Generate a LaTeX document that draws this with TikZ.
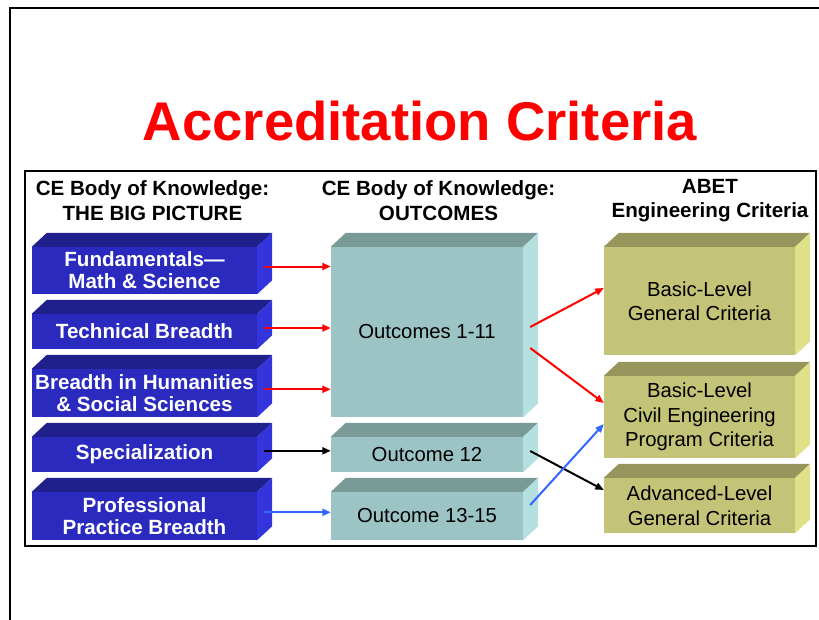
\documentclass[tikz,border=0pt]{standalone}
\usepackage{fontspec}
\setmainfont{Liberation Sans}
\usetikzlibrary{arrows.meta,calc}
\definecolor{bfront}{RGB}{42,42,190}
\definecolor{btop}{RGB}{32,32,140}
\definecolor{bside}{RGB}{52,52,220}
\definecolor{tfront}{RGB}{156,196,196}
\definecolor{ttop}{RGB}{122,154,152}
\definecolor{tside}{RGB}{180,224,224}
\definecolor{ofront}{RGB}{196,196,120}
\definecolor{otop}{RGB}{150,150,92}
\definecolor{oside}{RGB}{224,224,136}
\definecolor{lblue}{RGB}{51,102,255}
\newcommand\boxfaces[3]{%
  \fill[#2] (#1.north west) -- ++(15,-14) -- ([shift={(15,-14)}]#1.north east) -- (#1.north east) -- cycle;
  \fill[#3] (#1.north east) -- ++(15,-14) -- ([shift={(15,-14)}]#1.south east) -- (#1.south east) -- cycle;}
\tikzset{
  front/.style={rectangle, inner sep=0pt, align=center},
  bluebox/.style={front, fill=bfront, text=white, minimum width=225pt,
    font=\fontsize{20.6}{22}\selectfont\bfseries},
  tealbox/.style={front, fill=tfront, text=black, minimum width=192pt,
    font=\fontsize{20.3}{24}\selectfont},
  olivebox/.style={front, fill=ofront, text=black, minimum width=191pt,
    font=\fontsize{20.3}{24.5}\selectfont},
  header/.style={align=center, font=\fontsize{20.6}{24.5}\selectfont\bfseries},
  conn/.style={line width=2pt, -{Triangle[length=8.5pt,width=7pt]}},
  redc/.style={conn, draw=red, fill=red},
  blackc/.style={conn, draw=black, fill=black},
  bluec/.style={conn, draw=lblue, fill=lblue},
}
\begin{document}
\begin{tikzpicture}[x=1pt,y=-1pt]
\useasboundingbox (0,0) rectangle (819,619);
% frames
\draw[line width=2pt] (10,625) -- (10,7.5) -- (830,7.5);
\draw[line width=1.3pt] (25,171) rectangle (816,546);
% title
\node[anchor=base, text=red, font=\fontsize{54.5}{60}\selectfont\bfseries] (title) at (420,140) {Accreditation Criteria};
% headers
\node[header] (h1) at (152.5,200.5) {CE Body of Knowledge:\\THE BIG PICTURE};
\node[header] (h2) at (438.5,200.5) {CE Body of Knowledge:\\OUTCOMES};
\node[header] (h3) at (710,200.5) {ABET\\Engineering Criteria};
% blue boxes
\node[bluebox, minimum height=47pt] (b1) at (144.5,270.5) {Fundamentals\textemdash\\Math \& Science};
\node[bluebox, minimum height=35pt] (b2) at (144.5,331.5) {Technical Breadth};
\node[bluebox, minimum height=48pt] (b3) at (144.5,393) {Breadth in Humanities\\\& Social Sciences};
\node[bluebox, minimum height=35pt] (b4) at (144.5,454.5) {Specialization};
\node[bluebox, minimum height=48pt] (b5) at (144.5,516) {Professional\\Practice Breadth};
\foreach \n in {b1,b2,b3,b4,b5} {\boxfaces{\n}{btop}{bside}}
% teal boxes
\node[tealbox, minimum height=170pt] (t1) at (427,332) {Outcomes 1-11};
\node[tealbox, minimum height=35pt] (t2) at (427,454.5) {Outcome 12};
\node[tealbox, minimum height=48pt] (t3) at (427,516) {Outcome 13-15};
\foreach \n in {t1,t2,t3} {\boxfaces{\n}{ttop}{tside}}
% olive boxes
\node[olivebox, minimum height=108pt] (o1) at (699.5,301) {Basic-Level\\General Criteria};
\node[olivebox, minimum height=82pt] (o2) at (699.5,417) {Basic-Level\\Civil Engineering\\Program Criteria};
\node[olivebox, minimum height=55pt] (o3) at (699.5,505.5) {Advanced-Level\\General Criteria};
\foreach \n in {o1,o2,o3} {\boxfaces{\n}{otop}{oside}}
% left connectors
\draw[redc] ([shift={(7,-4)}]b1.east) -- ([yshift=4pt]b1.east -| t1.west);
\draw[redc] ([shift={(7,-3.5)}]b2.east) -- ([yshift=3.5pt]b2.east -| t1.west);
\draw[redc] ([shift={(7,-3.7)}]b3.east) -- ([yshift=3.7pt]b3.east -| t1.west);
\draw[blackc] ([shift={(7,-3.7)}]b4.east) -- ([yshift=3.7pt]t2.west);
\draw[bluec] ([shift={(7,-3.7)}]b5.east) -- ([yshift=3.7pt]t3.west);
% right connectors
\draw[redc] ([shift={(7,-5)}]t1.east) -- ([shift={(0,-13)}]o1.west);
\draw[redc] ([shift={(7,16)}]t1.east) -- ([shift={(0,-14)}]o2.west);
\draw[blackc] ([shift={(7,-3.5)}]t2.east) -- ([shift={(0,-15.5)}]o3.west);
\draw[bluec] ([shift={(7,-11)}]t3.east) -- ([shift={(0,7)}]o2.west);
\end{tikzpicture}
\end{document}
